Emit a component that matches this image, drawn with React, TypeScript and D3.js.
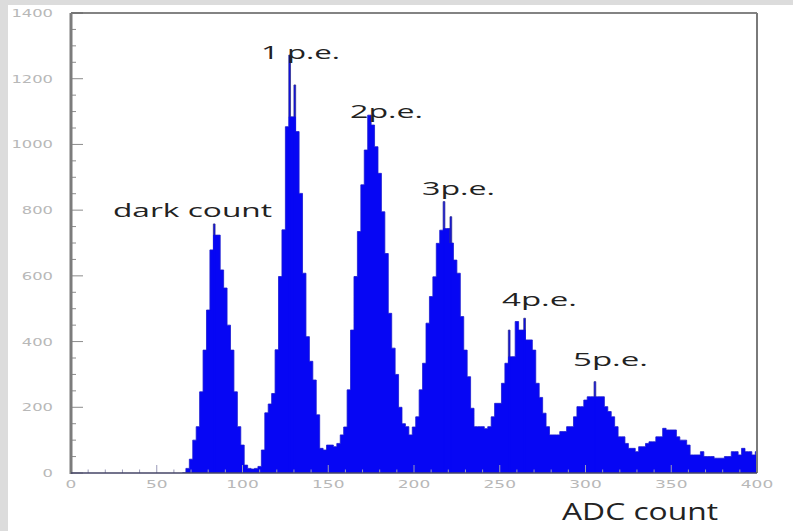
import React from 'react';
import * as d3 from 'd3';

// ADC spectrum: 2-count-wide bins starting at ADC 65
const binStart = 65;
const binWidth = 2;
const counts = [
  0, 14, 42, 100, 141, 247, 374, 496, 679, 724,
  724, 618, 563, 450, 374, 247, 141, 85, 24, 14,
  12, 14, 20, 70, 183, 210, 242, 375, 598, 740,
  1054, 1084, 1084, 1039, 851, 608, 415, 340, 283, 177,
  75, 70, 85, 85, 80, 90, 116, 140, 253, 435,
  598, 735, 877, 983, 1089, 1059, 993, 912, 795, 668,
  486, 380, 300, 200, 150, 141, 116, 140, 171, 253,
  334, 456, 537, 597, 699, 739, 744, 744, 700, 648,
  608, 476, 374, 293, 197, 141, 141, 141, 135, 141,
  171, 212, 212, 273, 334, 354, 354, 461, 435, 435,
  405, 405, 374, 273, 230, 182, 141, 116, 116, 116,
  126, 126, 141, 141, 171, 202, 202, 222, 232, 232,
  232, 232, 232, 202, 187, 171, 141, 110, 110, 90,
  75, 75, 65, 80, 80, 90, 95, 95, 110, 110,
  136, 131, 131, 131, 110, 100, 100, 85, 55, 55,
  55, 65, 50, 50, 50, 45, 45, 45, 50, 50,
  65, 65, 55, 75, 65, 65, 55, 65,
];

// single-count channels that stand out above their neighbours
const spikeAdc = [83, 127, 130, 217, 221, 255, 264, 305];
const spikeCounts = [758, 1272, 1181, 826, 780, 435, 471, 278];

const xTicks = [0, 50, 100, 150, 200, 250, 300, 350, 400];
const yTicks = [0, 200, 400, 600, 800, 1000, 1200, 1400];
const peakLabels = ['dark count', '1 p.e.', '2p.e.', '3p.e.', '4p.e.', '5p.e.'];
const xTitle = 'ADC count';

const W = 793;
const H = 531;
const plot = { left: 71, right: 757, top: 13, bottom: 473 };

// where each peak label sits: left edge, baseline, drawn width
const labelBoxes = [
  { x: 113, y: 217, w: 159 },
  { x: 261, y: 59, w: 79 },
  { x: 350, y: 118, w: 73 },
  { x: 422, y: 195, w: 73 },
  { x: 502, y: 306, w: 75 },
  { x: 573, y: 366, w: 75 },
];

export default function App() {
  const x = d3.scaleLinear().domain([0, 400]).range([plot.left, plot.right]);
  const y = d3.scaleLinear().domain([0, 1400]).range([plot.bottom, plot.top]);

  const pts = counts.map((c, i) => ({ a: binStart + i * binWidth, c }));
  pts.push({ a: binStart + counts.length * binWidth, c: counts[counts.length - 1] });

  const area = d3
    .area<{ a: number; c: number }>()
    .x((d) => x(d.a))
    .y0(y(0))
    .y1((d) => y(d.c))
    .curve(d3.curveStepAfter);

  const baseAt = (a: number) => counts[Math.floor((a - binStart) / binWidth)] ?? 0;

  const minorX = d3.range(0, 401, 10);
  const minorY = d3.range(0, 1401, 50);
  const tickFont = '"DejaVu Sans", sans-serif';
  const labelFont = '"Open Sans", sans-serif';

  return (
    <svg
      width={W}
      height={H}
      viewBox={`0 0 ${W} ${H}`}
      style={{ position: 'absolute', left: 0, top: 0, display: 'block' }}
    >
      <defs>
        <clipPath id="plotClip">
          <rect
            x={plot.left}
            y={plot.top}
            width={plot.right - plot.left}
            height={plot.bottom - plot.top}
          />
        </clipPath>
      </defs>
      <rect x={0} y={0} width={W} height={H} fill="#dcdcdc" />
      <rect x={8} y={5} width={W - 8} height={H - 5} fill="#ffffff" />

      <g clipPath="url(#plotClip)">
        <path d={area(pts) ?? ''} fill="#0606f4" stroke="#1a1ad0" strokeWidth={0.8} />
        {spikeAdc.map((a, i) => {
          const x0 = x(a);
          const x1 = x(a + 1);
          const yb = y(Math.min(baseAt(a), spikeCounts[i]));
          const yt = y(spikeCounts[i]);
          return (
            <g key={`s${a}`}>
              <rect x={x0} y={yt} width={x1 - x0} height={y(0) - yt} fill="#0606f4" />
              <path
                d={`M${x0},${yb}V${yt}H${x1}V${yb}`}
                fill="none"
                stroke="#34348c"
                strokeWidth={0.8}
              />
            </g>
          );
        })}
      </g>

      {/* axis ticks drawn over the histogram */}
      {minorX.map((v) => (
        <line
          key={`tx${v}`}
          x1={x(v)}
          x2={x(v)}
          y1={plot.bottom}
          y2={plot.bottom - (v % 50 === 0 ? 8 : 3.5)}
          stroke="#9a9ab8"
          strokeWidth={1}
        />
      ))}
      {minorY.map((v) => (
        <line
          key={`ty${v}`}
          x1={plot.left}
          x2={plot.left + (v % 200 === 0 ? 12 : 5)}
          y1={y(v)}
          y2={y(v)}
          stroke="#8c8c8c"
          strokeWidth={1}
        />
      ))}

      {/* frame */}
      <line x1={plot.left} x2={plot.right} y1={plot.top} y2={plot.top} stroke="#5a5a5a" strokeWidth={1.5} />
      <line x1={plot.right} x2={plot.right} y1={plot.top} y2={plot.bottom} stroke="#7a7a7a" strokeWidth={2} />
      <line x1={plot.left} x2={plot.left} y1={plot.top} y2={plot.bottom + 1} stroke="#7c7c7c" strokeWidth={3} />
      <line x1={plot.left} x2={plot.right} y1={plot.bottom} y2={plot.bottom} stroke="#444466" strokeWidth={1.5} />

      {/* tick labels */}
      {yTicks.map((v) => {
        const s = String(v);
        const w = s.length * 10.4;
        return (
          <text
            key={`ly${v}`}
            x={53 - w}
            y={y(v) + 4}
            fontFamily={tickFont}
            fontSize={11}
            fill="#b8b8b8"
            textLength={w}
            lengthAdjust="spacingAndGlyphs"
          >
            {s}
          </text>
        );
      })}
      {xTicks.map((v) => {
        const s = String(v);
        const w = s.length * 10.8;
        return (
          <text
            key={`lx${v}`}
            x={x(v) - w / 2}
            y={488}
            fontFamily={tickFont}
            fontSize={11}
            fill="#b8b8b8"
            textLength={w}
            lengthAdjust="spacingAndGlyphs"
          >
            {s}
          </text>
        );
      })}

      {/* peak annotations */}
      {peakLabels.map((t, i) => (
        <text
          key={t}
          x={labelBoxes[i].x}
          y={labelBoxes[i].y}
          fontFamily={labelFont}
          fontSize={19}
          fill="#222222"
          textLength={labelBoxes[i].w}
          lengthAdjust="spacingAndGlyphs"
        >
          {t}
        </text>
      ))}

      <text
        x={562}
        y={520}
        fontFamily={labelFont}
        fontSize={23}
        fill="#222222"
        textLength={156}
        lengthAdjust="spacingAndGlyphs"
      >
        {xTitle}
      </text>
    </svg>
  );
}
